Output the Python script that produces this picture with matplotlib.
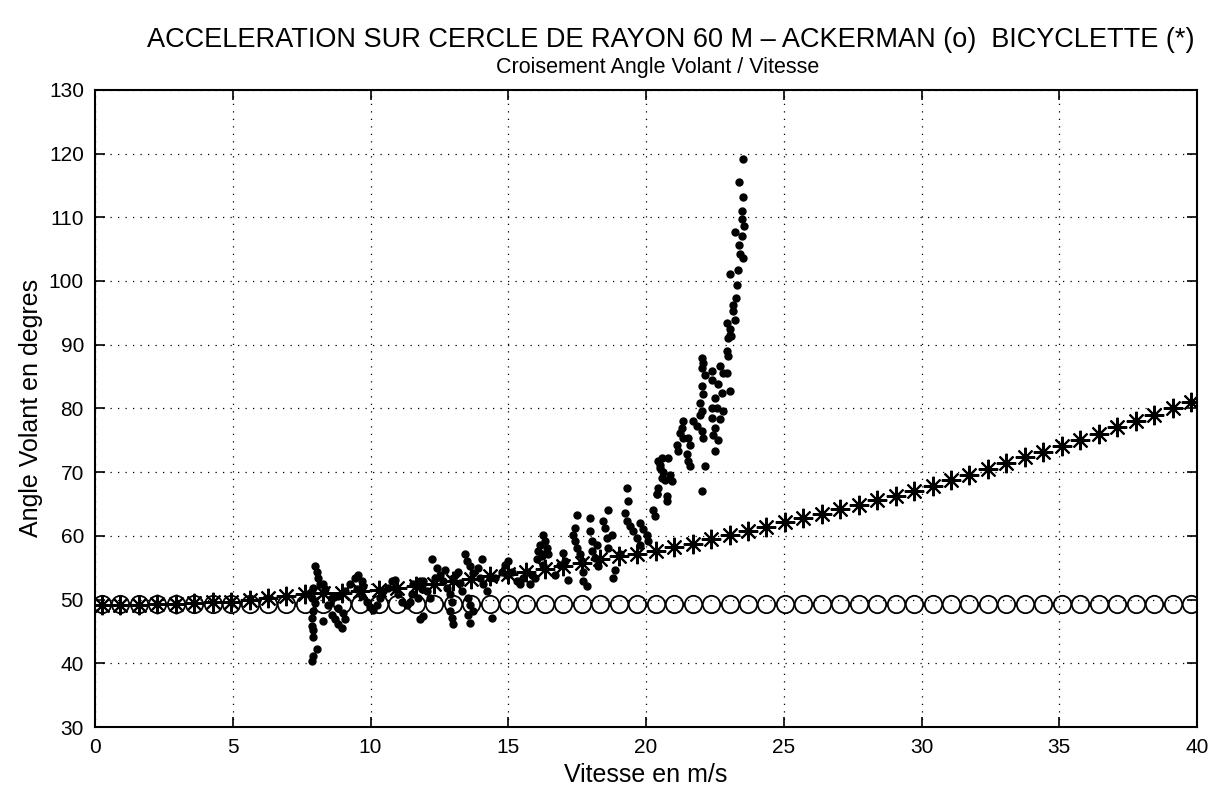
import numpy as np
import matplotlib.pyplot as plt

plt.rcParams['font.family'] = ['Liberation Sans', 'DejaVu Sans']

# vitesses des points modèles (m/s)
vitesse_modele = [0.25, 0.92, 1.59, 2.26, 2.93, 3.60, 4.27, 4.94, 5.61, 6.28,
                  6.95, 7.62, 8.29, 8.96, 9.63, 10.30, 10.97, 11.64, 12.31, 12.98,
                  13.65, 14.32, 14.99, 15.66, 16.33, 17.00, 17.67, 18.34, 19.01, 19.68,
                  20.35, 21.02, 21.69, 22.36, 23.03, 23.70, 24.37, 25.04, 25.71, 26.38,
                  27.05, 27.72, 28.39, 29.06, 29.73, 30.40, 31.07, 31.74, 32.41, 33.08,
                  33.75, 34.42, 35.09, 35.76, 36.43, 37.10, 37.77, 38.44, 39.11, 39.78]

# modele Ackerman (o)
angle_ackerman = [49.3] * 60

# modele bicyclette (*)
angle_bicyclette = [49.2, 49.2, 49.2, 49.3, 49.3, 49.4, 49.6, 49.7, 49.9, 50.2,
                    50.5, 50.8, 51.0, 51.1, 51.3, 51.5, 51.8, 52.2, 52.5, 52.9,
                    53.3, 53.7, 54.0, 54.3, 54.8, 55.2, 55.7, 56.3, 56.8, 57.2,
                    57.7, 58.2, 58.8, 59.5, 60.1, 60.8, 61.4, 62.1, 62.8, 63.5,
                    64.2, 64.9, 65.6, 66.3, 67.1, 67.9, 68.8, 69.6, 70.5, 71.4,
                    72.3, 73.2, 74.1, 75.0, 76.0, 77.1, 78.0, 79.0, 80.0, 81.0]

# mesures (vitesse, angle volant)
vitesse_mes = [7.99, 8.05, 8.10, 8.17, 7.92, 7.80, 8.29, 8.35, 7.87, 7.99,
               7.92, 7.87, 7.87, 7.92, 7.92, 8.05, 7.92, 7.87, 8.29, 8.59,
               8.71, 8.83, 8.95, 9.07, 9.01, 8.83, 8.47, 8.59, 8.83, 9.07,
               9.26, 9.44, 9.56, 9.68, 9.74, 9.50, 9.68, 9.86, 9.98, 10.10,
               10.22, 10.34, 10.47, 10.65, 10.77, 10.89, 10.89, 11.00, 11.13, 11.31,
               11.43, 11.49, 11.55, 11.80, 11.86, 11.73, 11.80, 11.92,
               11.92, 12.04, 12.16, 12.22, 12.40, 12.52, 12.34, 12.70, 12.64, 12.77,
               12.89, 12.95, 12.89, 12.95, 13.00, 13.00, 13.19, 13.25, 13.31, 13.43,
               13.49, 13.61, 13.73, 13.55, 13.61, 13.55, 13.61, 13.73, 13.91, 14.04,
               13.97, 14.10, 14.40, 14.52, 14.76, 14.88, 15.00, 14.94, 15.12, 15.31,
               15.43, 15.55, 15.67, 15.85, 15.79, 15.97, 16.09, 16.15, 16.21, 16.03,
               16.27, 14.22, 14.34,
               16.27, 16.33, 16.40, 16.21, 16.45, 16.70, 16.88, 17.00, 17.06, 17.18,
               17.36, 17.42, 17.48, 17.42, 17.48, 17.60, 17.66, 17.72, 17.72, 17.85,
               17.97, 17.97, 18.03, 18.03, 18.15, 18.21, 18.27, 18.45, 18.51, 18.57,
               18.63, 18.75, 18.63, 18.87, 19.06, 19.30, 19.36, 19.24, 19.30, 19.42,
               19.54, 19.66, 19.78, 19.90, 20.02, 20.08, 19.78, 20.27, 20.33, 20.39,
               20.45, 20.45, 20.51, 20.57, 20.75, 20.81, 18.81,
               23.05, 22.99, 22.93, 22.99, 22.02, 22.08, 22.02, 22.14, 22.38, 22.69,
               22.81, 22.93, 22.38, 22.62, 22.75, 22.50, 23.05, 22.02, 22.08, 21.96,
               22.02, 21.96, 22.38, 22.57, 22.81, 22.38, 22.69, 21.72, 21.84, 21.36,
               21.30, 21.23, 21.36, 21.54, 21.60, 22.02, 22.08, 22.50, 22.44, 22.62,
               22.50, 21.11, 21.17, 21.48, 21.54, 21.60, 20.57, 20.51, 20.63, 20.87,
               20.93, 20.69, 20.39, 20.75, 22.14, 22.02,
               23.53, 23.38, 23.51, 23.47, 23.49, 23.56, 23.23, 23.49, 23.39, 23.41,
               23.53, 23.35, 23.05, 23.32, 23.27, 23.17, 23.15, 23.23, 22.95, 23.03,
               23.08]
angle_mes = [55.2, 54.4, 53.4, 52.4, 51.8, 51.0, 52.4, 51.6, 50.3, 49.5,
             48.2, 47.1, 45.8, 45.3, 44.2, 42.2, 41.1, 40.3, 46.6, 47.6,
             46.9, 46.1, 45.5, 46.9, 47.9, 48.7, 49.2, 50.3, 50.5, 51.3,
             52.4, 53.4, 53.9, 52.9, 52.1, 51.6, 50.5, 49.7, 48.9, 48.4,
             49.2, 50.3, 51.3, 51.8, 52.9, 53.1, 51.8, 50.8, 49.7, 49.2,
             49.7, 50.8, 52.4, 52.9, 51.6, 50.3, 46.9, 47.4,
             52.9, 51.3, 50.3, 56.3, 55.0, 53.9, 53.4, 54.7, 52.9, 51.8,
             50.8, 49.7, 48.2, 47.1, 46.1, 53.4, 54.4, 52.6, 51.3, 57.1,
             56.0, 55.2, 54.2, 50.3, 49.2, 47.6, 46.3, 48.2, 55.0, 56.3,
             53.4, 52.4, 47.1, 53.4, 54.4, 55.5, 56.0, 53.9, 54.4, 52.9,
             52.4, 53.4, 54.4, 53.9, 52.4, 53.4, 57.6, 58.6, 56.8, 56.3,
             55.5, 51.3, 53.4,
             60.2, 59.2, 58.1, 57.1, 57.1, 53.9, 55.5, 57.3, 56.0, 53.1,
             60.2, 61.2, 63.3, 59.2, 58.1, 57.1, 56.0, 54.4, 52.9, 52.1,
             62.8, 60.7, 59.2, 57.6, 56.5, 58.6, 55.2, 62.3, 61.2, 59.7,
             58.1, 60.2, 64.1, 54.7, 57.1, 67.5, 65.4, 63.6, 62.3, 61.5,
             60.7, 59.7, 62.0, 61.0, 60.2, 59.2, 58.6, 64.1, 63.1, 66.5,
             67.5, 71.7, 70.7, 69.1, 65.4, 72.2, 53.4,
             91.6, 91.1, 89.0, 88.2, 87.9, 87.1, 86.4, 85.3, 85.8, 86.6,
             85.6, 85.6, 84.5, 83.8, 82.4, 81.6, 82.7, 83.5, 82.2, 80.9,
             79.6, 79.0, 80.1, 80.1, 79.6, 78.5, 78.3, 78.0, 77.2, 78.0,
             76.9, 76.2, 75.4, 75.4, 74.3, 76.4, 75.4, 76.9, 75.9, 75.1,
             73.3, 74.3, 73.3, 72.8, 71.7, 70.9, 72.2, 71.2, 70.1, 69.6,
             68.6, 68.8, 66.5, 66.2, 70.9, 67.0,
             119.1, 115.6, 113.2, 111.0, 109.8, 108.6, 107.7, 107.1, 105.7, 104.2,
             103.6, 101.8, 101.1, 99.3, 97.3, 96.3, 95.3, 93.8, 93.4, 92.4,
             91.3]

fig = plt.figure(figsize=(12.29, 7.95), dpi=100)
ax = fig.add_axes([0.0773, 0.0855, 0.8967, 0.8015])

ax.plot(vitesse_modele, angle_ackerman, linestyle='none', marker='o', ms=12.5,
        mfc='none', mec='black', mew=1.3)
ax.plot(vitesse_modele, angle_bicyclette, linestyle='none', marker=(8, 2, 0), ms=14,
        mec='black', mew=1.5)
ax.plot(vitesse_mes, angle_mes, linestyle='none', marker='o', ms=5,
        mfc='black', mec='black')

ax.set_xlim(0, 40)
ax.set_ylim(30, 130)
ax.set_xticks(np.arange(0, 41, 5))
ax.set_yticks(np.arange(30, 131, 10))
ax.grid(True, color='black', linestyle=(0, (1, 5)), linewidth=0.9)
ax.tick_params(direction='in', length=7, width=1.2, top=True, right=True,
               labelsize=15, pad=8)
for s in ax.spines.values():
    s.set_linewidth(1.5)

ax.set_xlabel('Vitesse en m/s', fontsize=18, labelpad=4)
ax.set_ylabel('Angle Volant en degres', fontsize=18, labelpad=4)

fig.text(0.546, 0.95, 'ACCELERATION SUR CERCLE DE RAYON 60 M – ACKERMAN (o)  BICYCLETTE (*)',
         ha='center', va='center', fontsize=19.5)
fig.text(0.535, 0.915, 'Croisement Angle Volant / Vitesse', ha='center', va='center',
         fontsize=15.5)

fig.savefig('out.png', dpi=100)
